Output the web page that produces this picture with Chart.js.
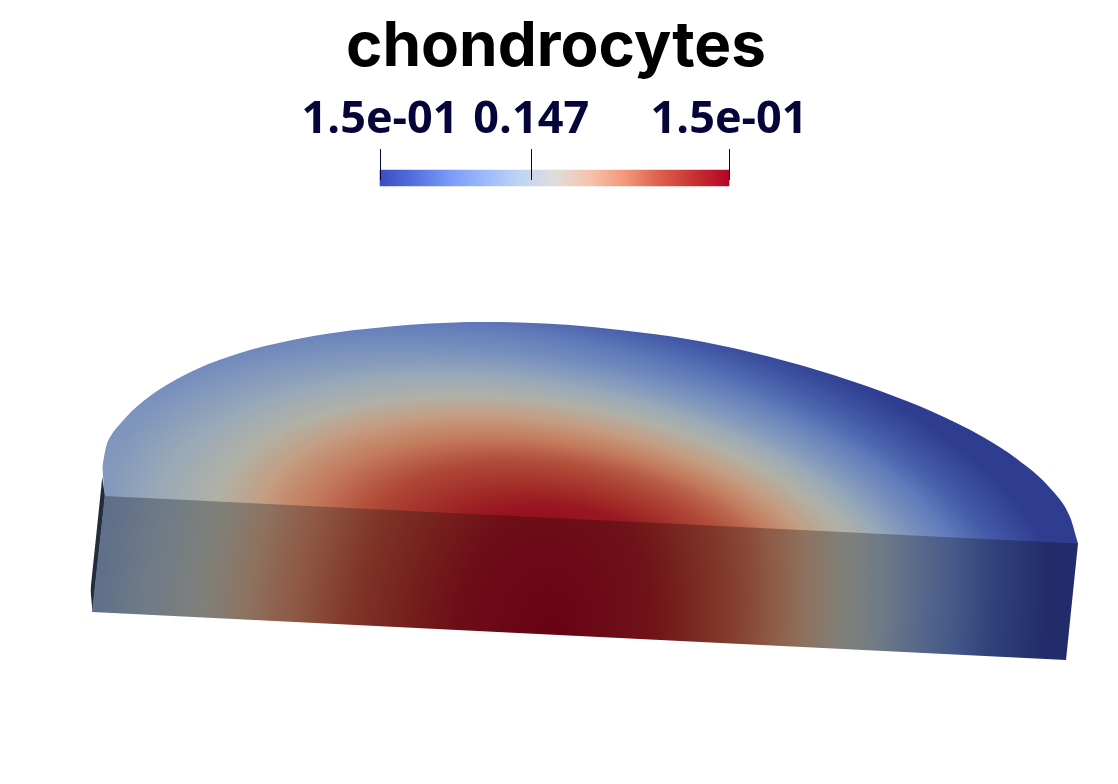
<!DOCTYPE html>
<html lang="en-us">
<head>
<meta charset="UTF-8">
<title>chondrocytes</title>
<script src="https://cdn.jsdelivr.net/npm/chart.js"></script>
<style>
	body {padding: 0; margin: 0; background: #fff;}
	#wrap {position: relative; width: 1118px; height: 784px;}
	canvas {position: absolute; left: 0; top: 0; display: block;}
</style>
</head>
<body>
<div id="wrap">
	<canvas id="surface" width="1118" height="784"></canvas>
	<canvas id="colorbar" width="1112" height="200"></canvas>
</div>

<script>
// colour bar
var barMin = 0.1457;
var barMax = 0.1487;
var tickValues = [0.1457, 0.147, 0.1487];
var tickLabels = ['1.5e-01', '0.147', '1.5e-01'];

// cool to warm colour map
var mapStops = [0, 0.1, 0.2, 0.3, 0.4, 0.5, 0.6, 0.7, 0.8, 0.9, 1];
var mapR = [59, 85, 122, 156, 192, 221, 245, 244, 222, 200, 180];
var mapG = [76, 113, 155, 185, 212, 221, 196, 152, 96, 50, 4];
var mapB = [192, 224, 249, 252, 245, 221, 173, 122, 77, 50, 38];

// outlines of the three visible faces
var arcX = [102.3, 106, 112, 120, 133, 157, 197, 240, 290, 340, 390, 430, 480, 520, 570, 620, 687, 750, 817, 883, 933, 983, 1017, 1050, 1070, 1078];
var arcY = [467, 447, 434, 424, 410, 391, 369, 353, 340.5, 332, 326.5, 323.5, 322, 322.5, 325, 330, 339, 352, 370, 392, 412, 437, 459, 488, 517, 543.5];
var chordX = [102.3, 104.7, 1078];
var chordY = [467, 497.5, 545];
var faceTopX = [92, 104.7, 1078];
var faceTopY = [612, 496, 543.5];
var faceBottomX = [92, 1066, 1078];
var faceBottomY = [612, 660, 543.5];
var sideTopX = [90.5, 102.3, 105];
var sideTopY = [590, 477, 497];
var sideBottomX = [90.5, 92.5, 105];
var sideBottomY = [590, 612, 497];

// falloff of the field from the hot spot
var radiusStops = [0, 0.2, 0.4, 0.61, 0.72, 0.85, 1, 1.3];
var fieldStops = [1, 0.95, 0.79, 0.56, 0.42, 0.28, 0.16, 0.05];

// how much of the colour map survives on each face (r, g, b)
var topShade = [0.8, 0.8, 0.75];
var frontShade = [0.58, 0.58, 0.55];

function lookup(xs, ys, v) {
	if (v <= xs[0]) return ys[0];
	for (var i = 1; i < xs.length; i++) {
		if (v <= xs[i]) {
			return ys[i - 1] + (ys[i] - ys[i - 1]) * (v - xs[i - 1]) / (xs[i] - xs[i - 1]);
		}
	}
	return ys[ys.length - 1];
}

function toPoints(xs, ys) {
	return xs.map(function(x, i) { return {x: x, y: ys[i]}; });
}

function fieldAt(u, v) {
	var r = Math.sqrt(u * u + v * v);
	var side = r > 0 ? u / r : 0;
	var t = 1 - (1 - lookup(radiusStops, fieldStops, r)) * (1 + (side < 0 ? 0.2 : 0.25) * side);
	return Math.max(0, Math.min(1, t));
}

function topField(px, py) {
	var dy = 518 + (px - 560) * 0.0488 - py;
	var X = px - 560 + 0.3 * dy;
	var w = 485 + 0.06 * X;
	return fieldAt(X / w, 0.15 + 0.85 * (485 / 197) * dy / w);
}

function frontField(px, py) {
	var X = px - 553;
	var up = 634.7 + 0.0493 * X - py;
	X = X - 0.105 * up;
	up = 634.7 + 0.0493 * X - py;
	var w = 485 + 0.06 * X;
	return fieldAt(X / w, 0.17 * up / 117);
}

// paints a shaded copy of the field, used as the fill of a face
function makeTexture(ctx, field, shade) {
	var off = document.createElement('canvas');
	off.width = 1118;
	off.height = 784;
	var octx = off.getContext('2d');
	var img = octx.createImageData(1118, 784);
	for (var y = 300; y < 680; y++) {
		for (var x = 80; x < 1090; x++) {
			var t = field(x, y);
			var k = (y * 1118 + x) * 4;
			img.data[k] = lookup(mapStops, mapR, t) * shade[0];
			img.data[k + 1] = lookup(mapStops, mapG, t) * shade[1];
			img.data[k + 2] = lookup(mapStops, mapB, t) * shade[2];
			img.data[k + 3] = 255;
		}
	}
	octx.putImageData(img, 0, 0);
	return ctx.createPattern(off, 'no-repeat');
}

var surfaceCtx = document.getElementById('surface').getContext('2d');
var topTexture = makeTexture(surfaceCtx, topField, topShade);
var frontTexture = makeTexture(surfaceCtx, frontField, frontShade);

function outline(xs, ys, fill, colour) {
	return {
		data: toPoints(xs, ys),
		showLine: true,
		tension: 0,
		pointRadius: 0,
		borderWidth: 0,
		fill: fill,
		backgroundColor: colour
	};
}

var arcOutline = outline(arcX, arcY, '+1', topTexture);
arcOutline.cubicInterpolationMode = 'monotone';

new Chart(surfaceCtx, {
	type: 'scatter',
	data: {
		datasets: [
			// first dataset ends up on top, so the front face covers the seam
			outline(faceTopX, faceTopY, '+1', frontTexture),
			outline(faceBottomX, faceBottomY, false, 'transparent'),
			outline(sideTopX, sideTopY, '+1', '#232c3b'),
			outline(sideBottomX, sideBottomY, false, 'transparent'),
			arcOutline,
			outline(chordX, chordY, false, 'transparent')
		]
	},
	options: {
		responsive: false,
		animation: false,
		events: [],
		layout: {padding: 0},
		plugins: {legend: {display: false}, tooltip: {enabled: false}},
		scales: {
			x: {type: 'linear', display: false, min: 0, max: 1118},
			y: {type: 'linear', display: false, min: 0, max: 784, reverse: true}
		}
	}
});

var barCtx = document.getElementById('colorbar').getContext('2d');
var barFill = barCtx.createLinearGradient(380, 0, 729, 0);
mapStops.forEach(function(s, i) {
	barFill.addColorStop(s, 'rgb(' + mapR[i] + ',' + mapG[i] + ',' + mapB[i] + ')');
});

new Chart(barCtx, {
	type: 'bar',
	data: {
		datasets: [{
			data: [{y: 29, x: [barMin, barMax]}],
			backgroundColor: barFill,
			barThickness: 16,
			borderWidth: 0,
			clip: false
		}]
	},
	options: {
		indexAxis: 'y',
		responsive: false,
		animation: false,
		events: [],
		// side margins come from the y scales: layout padding would squeeze the title
		layout: {padding: {bottom: 20}},
		plugins: {
			legend: {display: false},
			tooltip: {enabled: false},
			title: {
				display: true,
				text: 'chondrocytes',
				color: '#000',
				font: {family: 'Inter', size: 62, weight: '700'},
				padding: {top: 10, bottom: 0}
			}
		},
		scales: {
			x: {
				type: 'linear',
				position: 'top',
				min: barMin,
				max: barMax,
				afterBuildTicks: function(scale) {
					scale.ticks = tickValues.map(function(v) { return {value: v}; });
				},
				afterFit: function(scale) { scale.height = 64.6; },
				border: {display: false},
				grid: {z: 1, drawTicks: false, color: '#05053a', lineWidth: 1},
				ticks: {
					autoSkip: false,
					maxRotation: 0,
					color: '#05053a',
					padding: 2,
					font: {family: 'Open Sans', size: 45, weight: '700'},
					callback: function(value, index) { return tickLabels[index]; }
				}
			},
			y: {
				type: 'linear',
				position: 'left',
				offset: false,
				min: 0,
				max: 31,
				reverse: true,
				afterFit: function(scale) { scale.width = 380; },
				border: {display: false},
				grid: {display: false},
				ticks: {display: false}
			},
			yRight: {
				type: 'linear',
				position: 'right',
				afterFit: function(scale) { scale.width = 383; },
				border: {display: false},
				grid: {display: false},
				ticks: {display: false}
			}
		}
	}
});
</script>
</body>
</html>
